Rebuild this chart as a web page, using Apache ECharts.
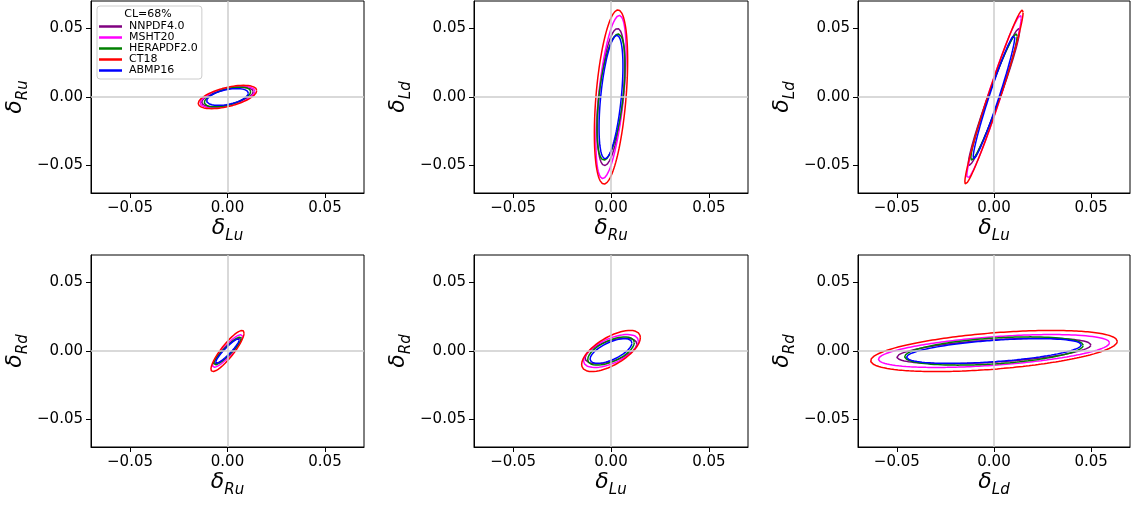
<!DOCTYPE html>
<html>
<head>
<meta charset="utf-8">
<script src="https://cdn.jsdelivr.net/npm/echarts@6/dist/echarts.min.js"></script>
<style>
  html, body { margin: 0; padding: 0; background: #fff; }
  #chart { width: 1134px; height: 507px; }
</style>
</head>
<body>
<div id="chart"></div>
<script>
// PDF sets, in legend order
var pdfSets = ['NNPDF4.0', 'MSHT20', 'HERAPDF2.0', 'CT18', 'ABMP16'];
var setColors = ['#800080', '#ff00ff', '#008000', '#ff0000', '#0000ff'];

// 68% CL half widths of each coefficient (same set order)
var halfLu = [0.0132, 0.0140, 0.0119, 0.0150, 0.0107];
var halfRu = [0.0070, 0.0077, 0.0072, 0.0085, 0.0061];
var halfLd = [0.0500, 0.0595, 0.0460, 0.0635, 0.0450];
var halfRd = [0.0093, 0.0120, 0.0103, 0.0150, 0.0090];

// correlation of the pair shown in each panel (same set order)
var corrLuRu = [0.55, 0.55, 0.55, 0.55, 0.45];
var corrRuLd = [0.47, 0.55, 0.50, 0.42, 0.50];
var corrLuLd = [0.97, 0.97, 0.965, 0.975, 0.97];
var corrRuRd = [0.90, 0.90, 0.92, 0.88, 0.93];
var corrLuRd = [0.55, 0.60, 0.60, 0.65, 0.65];
var corrLdRd = [0.48, 0.50, 0.40, 0.47, 0.50];

var tickValues = [-0.05, 0, 0.05];
var axisMin = -0.07, axisMax = 0.07;

var halfWidth = { Lu: halfLu, Ru: halfRu, Ld: halfLd, Rd: halfRd };
// panels: x variable, y variable, correlation
var panels = [
    ['Lu', 'Ru', corrLuRu],
    ['Ru', 'Ld', corrRuLd],
    ['Lu', 'Ld', corrLuLd],
    ['Ru', 'Rd', corrRuRd],
    ['Lu', 'Rd', corrLuRd],
    ['Ld', 'Rd', corrLdRd]
];

// grid boxes [left, top, width, height]
var boxes = [
    [91, 1, 273, 192], [474, 1, 274, 192], [858, 1, 272, 192],
    [91, 255, 273, 192], [474, 255, 274, 192], [858, 255, 272, 192]
];

var font = 'DejaVu Sans';

// confidence ellipse from the two half widths and the correlation
function ellipse(sx, sy, rho) {
    var pts = [];
    var n = 240;
    var k = Math.sqrt(1 - rho * rho);
    for (var i = 0; i <= n; i++) {
        var t = 2 * Math.PI * i / n;
        pts.push([sx * Math.cos(t), sy * (rho * Math.cos(t) + k * Math.sin(t))]);
    }
    return pts;
}

function fmt(v) {
    return (v < 0 ? '\u2212' : '') + Math.abs(v).toFixed(2);
}

var nameRich = {
    d: { fontSize: 22, fontStyle: 'italic', fontFamily: font, color: '#000', verticalAlign: 'bottom', padding: [0, 0, 5, 0] },
    s: { fontSize: 15, fontStyle: 'italic', fontFamily: font, color: '#000', verticalAlign: 'bottom' }
};

function makeAxis(i, v, isY) {
    return {
        gridIndex: i,
        type: 'value',
        min: axisMin,
        max: axisMax,
        name: '{d|\u03b4}{s|' + v + '}',
        nameLocation: 'middle',
        nameGap: isY ? 60 : 22,
        nameRotate: isY ? 90 : 0,
        nameTextStyle: { rich: nameRich },
        axisLine: { show: true, onZero: false, lineStyle: { color: '#000', width: 1 } },
        axisTick: { show: true, customValues: tickValues, length: 5, lineStyle: { color: '#000', width: 1 } },
        axisLabel: { customValues: tickValues, formatter: fmt, fontSize: 15, fontFamily: font, color: '#000', margin: 8 },
        splitLine: { show: false }
    };
}

var myChart = echarts.init(document.getElementById('chart'));

var grids = [], xAxes = [], yAxes = [], series = [];
panels.forEach(function (p, i) {
    var b = boxes[i];
    grids.push({ left: b[0], top: b[1], width: b[2], height: b[3], show: true, borderColor: '#000', borderWidth: 1, backgroundColor: '#fff' });
    xAxes.push(makeAxis(i, p[0], false));
    yAxes.push(makeAxis(i, p[1], true));
    pdfSets.forEach(function (name, j) {
        var s = {
            name: name,
            type: 'line',
            xAxisIndex: i,
            yAxisIndex: i,
            data: ellipse(halfWidth[p[0]][j], halfWidth[p[1]][j], p[2][j]),
            showSymbol: false,
            symbol: 'none',
            smooth: false,
            lineStyle: { color: setColors[j], width: 1.5 },
            itemStyle: { color: setColors[j] },
            silent: true
        };
        if (j === 0) {
            s.markLine = {
                silent: true,
                symbol: 'none',
                label: { show: false },
                lineStyle: { color: '#cdcdcd', width: 1.5, type: 'solid' },
                data: [{ xAxis: 0 }, { yAxis: 0 }]
            };
        }
        series.push(s);
    });
});

option = {
    animation: false,
    backgroundColor: '#fff',
    grid: grids,
    xAxis: xAxes,
    yAxis: yAxes,
    legend: {
        data: pdfSets,
        orient: 'vertical',
        left: 97,
        top: 6,
        padding: [15, 4, 3, 2],
        itemWidth: 23,
        itemHeight: 2.5,
        itemGap: 0,
        icon: 'rect',
        backgroundColor: 'rgba(255,255,255,0.8)',
        borderColor: '#cccccc',
        borderWidth: 1,
        borderRadius: 3,
        textStyle: { fontSize: 11, fontFamily: font, color: '#000', lineHeight: 10.7, padding: [0, 0, 0, 2] }
    },
    graphic: [{
        type: 'text',
        z: 100,
        x: 148,
        y: 14,
        style: { text: 'CL=68%', textAlign: 'center', textVerticalAlign: 'middle', fontSize: 11, fontFamily: font, fill: '#000' }
    }],
    series: series
};

myChart.setOption(option);
</script>
</body>
</html>
